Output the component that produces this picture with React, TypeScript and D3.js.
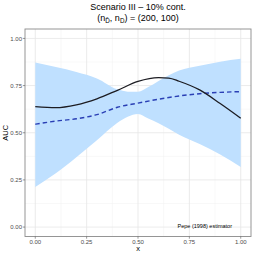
import React from "react";
import * as d3 from "d3";

const lineX = [0, 0.1, 0.2, 0.3, 0.4, 0.5, 0.6, 0.65, 0.7, 0.8, 0.9, 1.0];
const trueAUC = [0.638, 0.633, 0.648, 0.68, 0.725, 0.772, 0.792, 0.79, 0.773, 0.727, 0.655, 0.577];
const estAUC = [0.545, 0.562, 0.574, 0.596, 0.635, 0.657, 0.678, 0.687, 0.695, 0.707, 0.714, 0.718];

const bandX = [0, 0.1, 0.2, 0.3, 0.4, 0.45, 0.5, 0.55, 0.6, 0.7, 0.8, 0.9, 1.0];
const bandUpper = [0.873, 0.848, 0.822, 0.788, 0.73, 0.718, 0.717, 0.742, 0.775, 0.83, 0.855, 0.877, 0.892];
const bandLower = [0.213, 0.285, 0.37, 0.46, 0.553, 0.585, 0.6, 0.575, 0.55, 0.49, 0.44, 0.385, 0.319];

const xTicks = [0, 0.25, 0.5, 0.75, 1];
const yTicks = [0, 0.25, 0.5, 0.75, 1];
const xMinor = [0.125, 0.375, 0.625, 0.875];
const yMinor = [0.125, 0.375, 0.625, 0.875];

const FONT = "'Liberation Sans', Arial, Helvetica, sans-serif";

export default function App() {
  const W = 254, H = 254;
  const left = 25, right = 251, top = 29, bottom = 236.5;
  const x = d3.scaleLinear().domain([-0.05, 1.05]).range([left, right]);
  const y = d3.scaleLinear().domain([-0.05, 1.05]).range([bottom, top]);

  const band = d3
    .area<number>()
    .x((_, i) => x(bandX[i]))
    .y0((_, i) => y(bandLower[i]))
    .y1((_, i) => y(bandUpper[i]))
    .curve(d3.curveMonotoneX);
  const line = (vals: number[]) =>
    d3
      .line<number>()
      .x((_, i) => x(lineX[i]))
      .y((d) => y(d))
      .curve(d3.curveMonotoneX)(vals) as string;

  const fmt = d3.format(".2f");
  const cx = (left + right) / 2;

  return (
    <svg
      width={W}
      height={H}
      style={{ position: "absolute", left: 0, top: 0, background: "#fff" }}
      fontFamily={FONT}
    >
      <rect x={0} y={0} width={W} height={H} fill="#fff" />
      {/* grid */}
      {xMinor.map((v) => (
        <line key={"xm" + v} x1={x(v)} x2={x(v)} y1={top} y2={bottom} stroke="#f0f0f0" strokeWidth={0.5} />
      ))}
      {yMinor.map((v) => (
        <line key={"ym" + v} y1={y(v)} y2={y(v)} x1={left} x2={right} stroke="#f0f0f0" strokeWidth={0.5} />
      ))}
      {xTicks.map((v) => (
        <line key={"xg" + v} x1={x(v)} x2={x(v)} y1={top} y2={bottom} stroke="#e6e6e6" strokeWidth={0.8} />
      ))}
      {yTicks.map((v) => (
        <line key={"yg" + v} y1={y(v)} y2={y(v)} x1={left} x2={right} stroke="#e6e6e6" strokeWidth={0.8} />
      ))}
      {/* band */}
      <path d={band(bandX) as string} fill="#bfe0ff" stroke="none" />
      {/* lines */}
      <path d={line(estAUC)} fill="none" stroke="#2a3fb5" strokeWidth={1.4} strokeDasharray="4.5,3" />
      <path d={line(trueAUC)} fill="none" stroke="#1c1c22" strokeWidth={1.3} />
      {/* annotation */}
      <text x={x(0.825)} y={y(0.005) + 2} fontSize={5.5} textAnchor="middle" fill="#000">
        Pepe (1998) estimator
      </text>
      {/* panel border */}
      <rect x={left} y={top} width={right - left} height={bottom - top} fill="none" stroke="#8a8a8a" strokeWidth={0.9} />
      {/* ticks */}
      {xTicks.map((v) => (
        <g key={"xt" + v}>
          <line x1={x(v)} x2={x(v)} y1={bottom} y2={bottom + 2.2} stroke="#555" strokeWidth={0.6} />
          <text x={x(v)} y={bottom + 7.8} fontSize={6} textAnchor="middle" fill="#4d4d4d">
            {fmt(v)}
          </text>
        </g>
      ))}
      {yTicks.map((v) => (
        <g key={"yt" + v}>
          <line x1={left - 2.2} x2={left} y1={y(v)} y2={y(v)} stroke="#555" strokeWidth={0.6} />
          <text x={left - 3} y={y(v) + 2.1} fontSize={6} textAnchor="end" fill="#4d4d4d">
            {fmt(v)}
          </text>
        </g>
      ))}
      {/* axis titles */}
      <text x={cx} y={251} fontSize={7.5} textAnchor="middle" fill="#000">
        x
      </text>
      <text
        transform={`translate(8.2, ${(top + bottom) / 2}) rotate(-90)`}
        fontSize={7.5}
        textAnchor="middle"
        fill="#000"
      >
        AUC
      </text>
      {/* titles */}
      <text x={cx} y={10} fontSize={9} textAnchor="middle" fill="#000">
        Scenario III – 10% cont.
      </text>
      <text x={cx} y={21} fontSize={9} textAnchor="middle" fill="#000">
        (n
        <tspan fontSize={6.3} dy={2}>{"D\u0304"}</tspan>
        <tspan dy={-2}>, n</tspan>
        <tspan fontSize={6.3} dy={2}>D</tspan>
        <tspan dy={-2}>) = (200, 100)</tspan>
      </text>
    </svg>
  );
}
